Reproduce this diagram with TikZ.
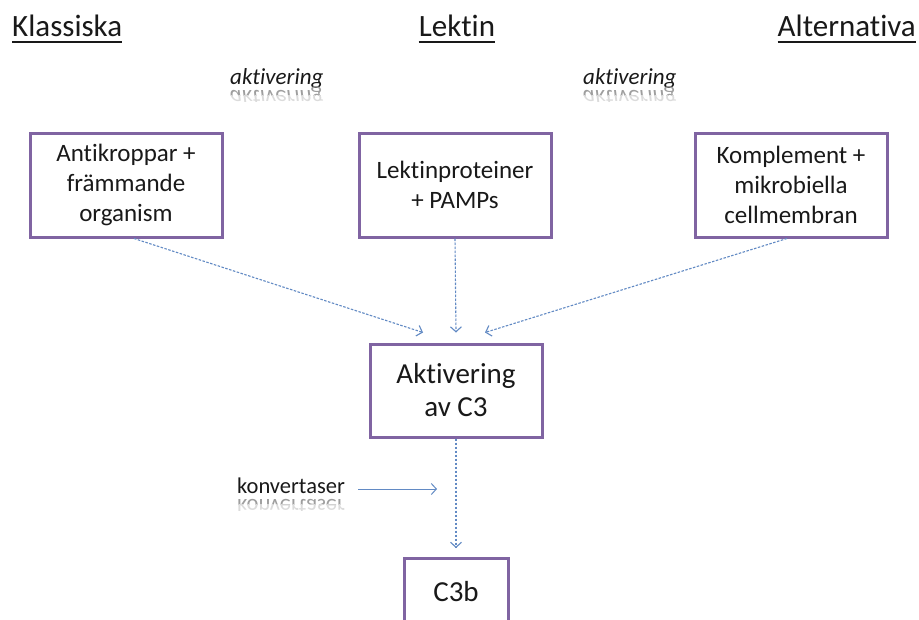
\documentclass[tikz,border=0pt]{standalone}
\usepackage{fontspec}
\setmainfont{Carlito}[Ligatures=NoCommon]
\usetikzlibrary{arrows.meta}
\definecolor{boxc}{RGB}{128,100,162}
\definecolor{arrc}{RGB}{98,138,196}
\definecolor{txt}{RGB}{25,25,25}
\newcommand\mirrortext[5]{%
  \begin{scope}
    \clip (#1-5,#2+2) rectangle (#1+130,#2+11);
    \begin{scope}[shift={(#1,#2+6)}, yscale=-1]
      \node[transform shape, anchor=base west, inner sep=0pt, text=black!38, font={#3}] (#5a) at (0,0) {#4};
    \end{scope}
  \end{scope}
  \begin{scope}
    \clip (#1-5,#2+11) rectangle (#1+130,#2+17);
    \begin{scope}[shift={(#1,#2+6)}, yscale=-1]
      \node[transform shape, anchor=base west, inner sep=0pt, text=black!14, font={#3}] (#5b) at (0,0) {#4};
    \end{scope}
  \end{scope}}
\begin{document}
\begin{tikzpicture}[x=1pt,y=-1pt,
  box/.style={draw=boxc, line width=3pt, fill=white, align=center, inner sep=0pt,
    text=txt, font=\fontsize{25}{30}\selectfont, minimum width=192pt, minimum height=104pt},
  head/.style={anchor=base west, inner sep=0pt, text=txt, font=\fontsize{31}{37}\selectfont},
  act/.style={anchor=base west, inner sep=0pt, text=txt, font=\fontsize{23}{28}\selectfont\itshape},
  dasharr/.style={draw=arrc, line width=1.1pt, dash pattern=on 2.5pt off 1.5pt,
    -{Straight Barb[length=5pt,width=11pt,line width=1.1pt]}},
  solidarr/.style={draw=arrc, line width=1pt, -{Straight Barb[length=5pt,width=11pt,line width=1pt]}},
]
\useasboundingbox[fill=white] (0,0) rectangle (919,619);
\clip (0,0) rectangle (919,619);

% headers
\node[head] (hk) at (12,36) {Klassiska};
\node[head, anchor=base] (hl) at (457,36) {Lektin};
\node[head, anchor=base east] (ha) at (916,36) {Alternativa};
\foreach \n in {hk,hl,ha}
  \draw[txt, line width=2pt] ([yshift=-6pt]\n.base west) -- ([yshift=-6pt]\n.base east);

% aktivering labels with reflections
\node[act] (a1) at (230,84) {aktivering};
\node[act] (a2) at (583,84) {aktivering};
\mirrortext{230}{84}{\fontsize{23}{28}\selectfont\itshape}{aktivering}{ra1}
\mirrortext{583}{84}{\fontsize{23}{28}\selectfont\itshape}{aktivering}{ra2}

% boxes
\node[box] (b1) at (126,185) {Antikroppar +\\främmande\\organism};
\node[box] (b2) at (455,185) {Lektinproteiner\\+ PAMPs};
\node[box] (b3) at (791,185) {Komplement +\\mikrobiella\\cellmembran};
\node[box, minimum width=172pt, minimum height=93pt, font=\fontsize{29}{33}\selectfont] (c) at (456,390.5) {Aktivering\\av C3};
\node[box, minimum width=104pt, minimum height=66pt, font=\fontsize{29}{33}\selectfont, anchor=north] (d) at (456,557) {C3b};

% arrows
\draw[dasharr] ([xshift=8pt]b1.south) -- ([xshift=-33pt,yshift=10pt]c.north);
\draw[dasharr] (b2.south) -- ([yshift=10pt]c.north);
\draw[dasharr] ([xshift=-4pt]b3.south) -- ([xshift=29pt,yshift=10pt]c.north);
\draw[dasharr] (c.south) -- ([yshift=9pt]d.north);

% konvertaser
\node[anchor=base west, inner sep=0pt, text=txt, font=\fontsize{22.5}{27}\selectfont] (kv) at (237,493) {konvertaser};
\mirrortext{237}{493}{\fontsize{22.5}{27}\selectfont}{konvertaser}{rkv}
\coordinate (kvtip) at (437,489);
\draw[solidarr] ([xshift=13pt]kv.east |- kvtip) -- (kvtip);
\end{tikzpicture}
\end{document}
